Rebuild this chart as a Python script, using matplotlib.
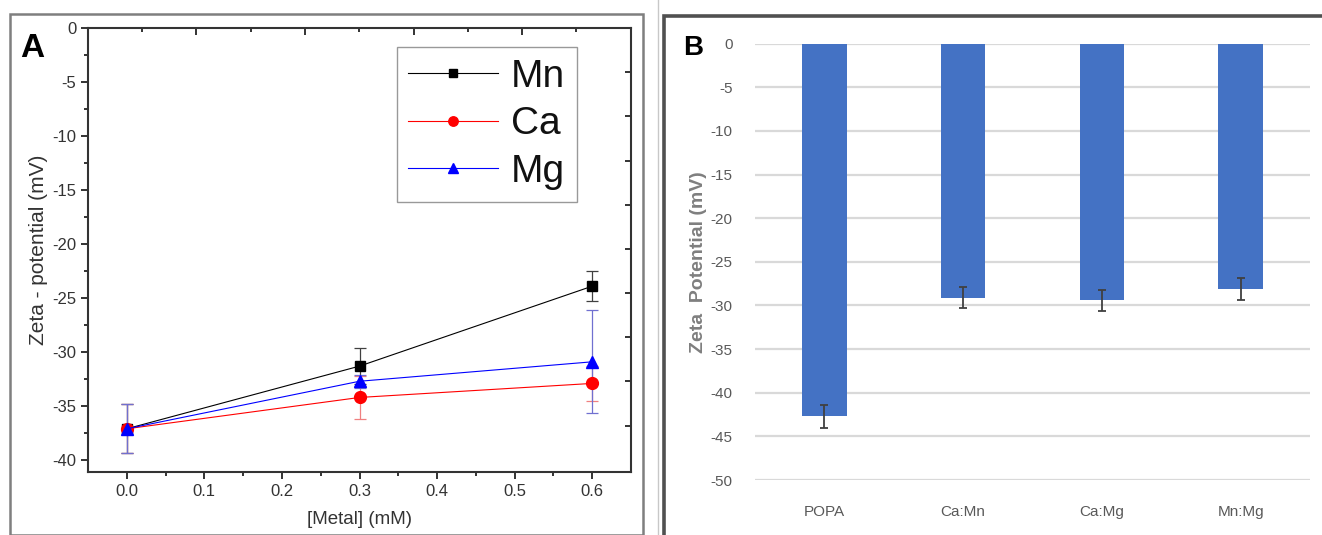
import numpy as np
import matplotlib
matplotlib.use("Agg")
import matplotlib.pyplot as plt
from matplotlib.patches import Rectangle
from matplotlib.lines import Line2D

# panel A: zeta potential against metal concentration
conc = [0.0, 0.3, 0.6]
mn_vals = [-37.1, -31.3, -23.9]
mn_err = [2.25, 1.7, 1.4]
ca_vals = [-37.1, -34.2, -32.9]
ca_err = [2.25, 2.0, 1.6]
mg_vals = [-37.1, -32.7, -30.9]
mg_err = [2.25, 0.6, 4.75]

# panel B: mixed metal pairs
pairs = ["POPA", "Ca:Mn", "Ca:Mg", "Mn:Mg"]
pair_vals = [-42.7, -29.1, -29.4, -28.1]
pair_err = [1.3, 1.2, 1.2, 1.3]

plt.rcParams['font.family'] = ['Liberation Sans', 'DejaVu Sans']
plt.rcParams['axes.unicode_minus'] = False

fig = plt.figure(figsize=(13.22, 5.35), dpi=100)
W, H = 1322, 535

def box(x0, y0, x1, y1):
    return [x0 / W, 1 - y1 / H, (x1 - x0) / W, (y1 - y0) / H]

# panel frames
fig.patches.append(Rectangle((10 / W, 0), (643 - 10) / W, 1 - 14 / H, transform=fig.transFigure,
                             fill=False, edgecolor='#7f7f7f', lw=1.8))
fig.add_artist(Line2D([658 / W, 658 / W], [0, 1], transform=fig.transFigure, color='#c8c8c8', lw=1))
fig.patches.append(Rectangle((664 / W, -0.01), 1.0, 1 - 15.5 / H + 0.01, transform=fig.transFigure,
                             fill=False, edgecolor='#505050', lw=2.6))

# ---- panel A ----
ax = fig.add_axes(box(88, 28, 631, 472))
series = [
    ("Mn", mn_vals, mn_err, 'black', '#404040', 's', 7),
    ("Ca", ca_vals, ca_err, '#ff0000', '#f08080', 'o', 8.5),
    ("Mg", mg_vals, mg_err, '#0000ff', '#7070d0', '^', 9),
]
handles = []
for name, vals, err, col, ecol, mk, ms in series:
    ax.errorbar(conc, vals, yerr=err, color=col, marker=mk, ms=ms, lw=0.8,
                ecolor=ecol, elinewidth=0.9, capsize=4, capthick=0.9, zorder=3)
    handles.append(Line2D([], [], color=col, marker=mk, ms=ms * 0.8, lw=0.8, label=name))

ax.set_xlim(-0.05, 0.65)
ax.set_ylim(-41.1, 0)
ax.set_xticks(np.arange(0, 0.61, 0.1))
ax.set_xticks(np.arange(0.05, 0.6, 0.1), minor=True)
ax.set_yticks(np.arange(-40, 1, 5))
ax.set_yticks(np.arange(-37.5, 0, 5), minor=True)
ax.xaxis.set_major_formatter(matplotlib.ticker.FormatStrFormatter('%.1f'))
ax.tick_params(which='both', direction='out', colors='#333333', labelsize=12, width=1.4)
ax.tick_params(which='major', length=5)
ax.tick_params(which='minor', length=3)
for s in ax.spines.values():
    s.set_linewidth(1.5)
    s.set_color('#333333')
ax.set_xlabel("[Metal] (mM)", fontsize=13.5, color='#333333', labelpad=9)
ax.set_ylabel("Zeta - potential (mV)", fontsize=15, color='#333333', labelpad=3)

# top and right frame ticks
top = ax.twiny()
top.set_xlim(ax.get_xlim())
top.set_xticks(0.0197 + 0.14 * np.arange(5))
top.set_xticks(0.0897 + 0.14 * np.arange(4), minor=True)
top.tick_params(which='both', direction='in', labeltop=False, color='#333333', width=1.4)
top.tick_params(which='major', length=3)
top.tick_params(which='minor', length=5)
right = ax.twinx()
right.set_ylim(ax.get_ylim())
right.set_yticks(-4.09 * np.arange(1, 10))
right.tick_params(direction='in', labelright=False, length=4, color='#333333', width=1.4)
for a in (top, right):
    for s in a.spines.values():
        s.set_visible(False)

leg = ax.legend(handles=handles, loc='upper right', bbox_to_anchor=(0.9006, 0.957), borderaxespad=0,
                fontsize=28, frameon=True, fancybox=False, edgecolor='#808080',
                handlelength=2.3, handletextpad=0.35, labelspacing=0.3, borderpad=0.3)
leg.get_frame().set_linewidth(1.0)
for t in leg.get_texts():
    t.set_color('#111111')

fig.text(20 / W, 1 - 57 / H, "A", fontsize=24, fontweight='bold', color='black')

# ---- panel B ----
bx = fig.add_axes(box(755, 43.6, 1310, 480))
xpos = np.arange(len(pairs))
bx.bar(xpos, pair_vals, width=0.32, color='#4472c4', zorder=2)
bx.errorbar(xpos, pair_vals, yerr=pair_err, fmt='none', ecolor='#404040',
            elinewidth=1.3, capsize=3, capthick=1.3, zorder=3)
bx.set_xlim(-0.5, 3.5)
bx.set_ylim(-50, 0)
bx.set_yticks(np.arange(-50, 1, 5))
bx.set_xticks(xpos)
bx.set_xticklabels(pairs)
bx.yaxis.grid(True, color='#d9d9d9', lw=1.6, zorder=0)
bx.set_axisbelow(True)
for s in bx.spines.values():
    s.set_visible(False)
bx.tick_params(length=0, colors='#595959', labelsize=11, pad=16)
bx.tick_params(axis='x', pad=18)
bx.set_ylabel("Zeta  Potential (mV)", fontsize=14, color='#7f7f7f', fontweight='bold', labelpad=3)

fig.text(683 / W, 1 - 55 / H, "B", fontsize=20, fontweight='bold', color='black')

fig.savefig("out.png", dpi=100)
